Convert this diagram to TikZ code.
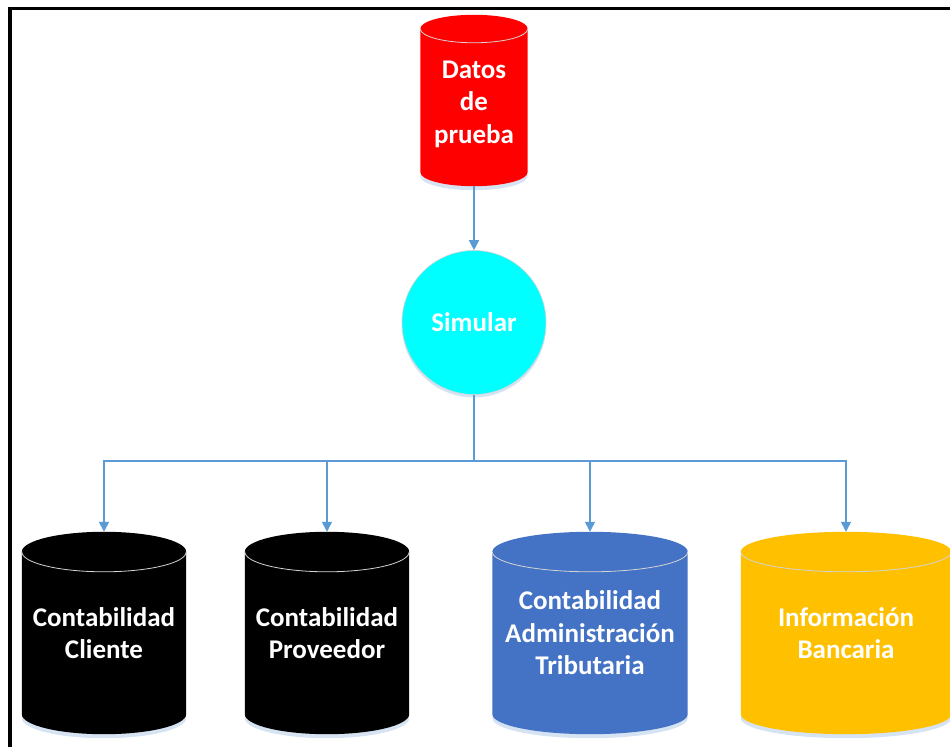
\documentclass[tikz,border=0pt]{standalone}
\usepackage{fontspec}
\setmainfont{Carlito}
\usetikzlibrary{arrows.meta,calc}
\pgfdeclarelayer{background}
\pgfsetlayers{background,main}

\definecolor{linkblue}{HTML}{5B9BD5}
\definecolor{drumred}{HTML}{FF0000}
\definecolor{drumblue}{HTML}{4472C4}
\definecolor{drumgold}{HTML}{FFC000}
\definecolor{simcyan}{HTML}{00FFFF}
\definecolor{rimgray}{HTML}{D4D4D4}
\definecolor{dropshade}{HTML}{C5D7EE}

\tikzset{
  label text/.style={font=\fontsize{27}{32.5}\selectfont\bfseries, text=white, align=center},
  drumbox/.style={label text, minimum height=202pt, inner sep=0pt},
  link/.style={draw=linkblue, line width=1.4pt},
  linkarrow/.style={link, -{Triangle[width=10pt,length=10pt]}},
}

% database drum drawn behind the named box #1, filled with #2, ellipse half-height #3
\newcommand\drum[3]{%
  \begin{pgfonlayer}{background}
    \fill[dropshade, opacity=0.7] let \p1=(#1.north west), \p2=(#1.south east), \n1={(\x2-\x1)/2} in
      ({(\x1+\x2)/2},\y2+#3-4pt) ellipse[x radius=\n1, y radius=#3];
    \fill[#2] let \p1=(#1.north west), \p2=(#1.south east), \n1={(\x2-\x1)/2} in
      (\x1,\y1-#3) -- (\x1,\y2+#3)
      arc[start angle=180, end angle=360, x radius=\n1, y radius=#3]
      -- (\x2,\y1-#3)
      arc[start angle=0, end angle=180, x radius=\n1, y radius=#3] -- cycle;
    \draw[rimgray, line width=0.8pt] let \p1=(#1.north west), \p2=(#1.south east), \n1={(\x2-\x1)/2} in
      (\x1,\y1-#3) arc[start angle=180, end angle=360, x radius=\n1, y radius=#3];
  \end{pgfonlayer}}

\begin{document}
\begin{tikzpicture}[x=1pt, y=1pt]
  \useasboundingbox (0,0) rectangle (950,747);

  % frame
  \draw[line width=3.5pt] (10,0) -- (10,738.5) -- (950,738.5);

  % source data (empty first line pads the top so the words sit a little lower)
  \node[drumbox, minimum width=107pt, minimum height=171pt] (dat) at (474,646.5) {\mbox{}\\[-8pt]Datos\\de\\prueba};
  \drum{dat}{drumred}{14pt}

  % simulation step
  \begin{pgfonlayer}{background}
    \fill[dropshade, opacity=0.7] (474,421.5) circle[radius=72pt];
  \end{pgfonlayer}
  \node[circle, fill=simcyan, draw=rimgray, line width=0.6pt, minimum size=144pt, inner sep=0pt, label text] (sim) at (474,424.5) {Simular};

  % target stores
  \node[drumbox, minimum width=164pt] (cli) at (104,114) {Contabilidad\\Cliente};
  \drum{cli}{black}{20pt}
  \node[drumbox, minimum width=164pt] (prov) at (327,114) {Contabilidad\\Proveedor};
  \drum{prov}{black}{20pt}
  \node[drumbox, minimum width=195pt] (adm) at (590,114) {Contabilidad\\Administración\\Tributaria};
  \drum{adm}{drumblue}{20pt}
  \node[drumbox, minimum width=210pt] (ban) at (846,114) {Información\\Bancaria};
  \drum{ban}{drumgold}{20pt}

  % connectors
  \coordinate (split) at (474,286);
  \draw[linkarrow] (dat.south) -- (sim.north);
  \draw[link] (sim.south) -- (split);
  \draw[linkarrow] (split) -| (cli.north);
  \draw[linkarrow] (split) -| (prov.north);
  \draw[linkarrow] (split) -| (adm.north);
  \draw[linkarrow] (split) -| (ban.north);
\end{tikzpicture}
\end{document}
